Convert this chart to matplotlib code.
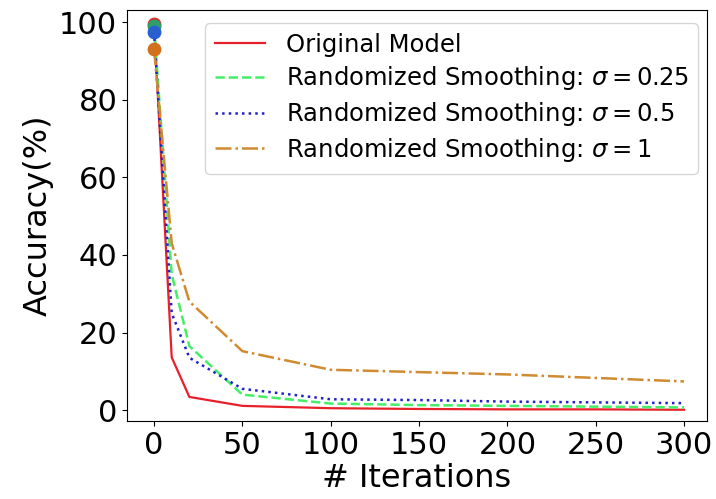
import numpy as np
import matplotlib
matplotlib.use("Agg")
import matplotlib.pyplot as plt

# data
iterations = [0, 10, 20, 50, 100, 150, 200, 250, 300]
acc_original = [99.5, 13.6, 3.4, 1.1, 0.5, 0.3, 0.2, 0.2, 0.1]
acc_rs_025 = [99.0, 35.0, 16.5, 4.0, 1.7, 1.3, 1.1, 0.9, 0.7]
acc_rs_05 = [97.5, 25.0, 13.5, 5.5, 2.8, 2.6, 2.2, 2.0, 1.8]
acc_rs_1 = [93.0, 43.0, 28.0, 15.2, 10.4, 9.8, 9.2, 8.3, 7.4]

labels = ['Original Model',
          r'Randomized Smoothing: $\sigma=0.25$',
          r'Randomized Smoothing: $\sigma=0.5$',
          r'Randomized Smoothing: $\sigma=1$']

fig = plt.figure(figsize=(7.16, 4.99), dpi=100)
ax = fig.add_axes([0.1774, 0.1563, 0.81, 0.8227])

ax.plot(iterations, acc_original, '-', color='#e8202a', lw=1.6, label=labels[0])
ax.plot(iterations, acc_rs_025, '--', color='#44ee66', lw=1.8, label=labels[1])
ax.plot(iterations, acc_rs_05, ':', color='#2020cc', lw=1.8, label=labels[2])
ax.plot(iterations, acc_rs_1, '-.', color='#d08a30', lw=1.8, label=labels[3])

# starting points
ax.scatter([iterations[0]], [acc_rs_1[0]], s=80, color='#d2701e', zorder=5)
ax.scatter([iterations[0]], [acc_rs_05[0]], s=80, color='#2a5fd0', zorder=5)
ax.scatter([iterations[0]], [acc_rs_025[0]], s=80, color='#2ca06a', zorder=4)
ax.scatter([iterations[0]], [acc_original[0]], s=80, color='#d63030', zorder=3)

ax.set_xlim(-15.3, 313)
ax.set_ylim(-2.8, 103)
ax.set_xticks([0, 50, 100, 150, 200, 250, 300])
ax.set_yticks([0, 20, 40, 60, 80, 100])
ax.tick_params(labelsize=22)
ax.set_xlabel('# Iterations', fontsize=23, labelpad=2)
ax.set_ylabel('Accuracy(%)', fontsize=23, labelpad=4)

ax.legend(loc='upper right', fontsize=17.5, handlelength=2.05, labelspacing=0.32,
          handletextpad=0.85, borderaxespad=0, bbox_to_anchor=(0.985, 0.97))

fig.savefig('out.png', dpi=100)
